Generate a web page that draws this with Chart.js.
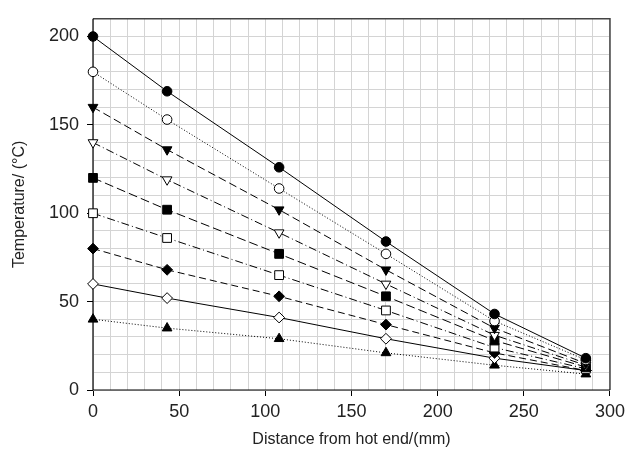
<!DOCTYPE html>
<html>
<head>
<meta charset="utf-8">
<script src="https://cdn.jsdelivr.net/npm/chart.js@4"></script>
<style>
  html, body { margin: 0; padding: 0; background: #fff; }
  #wrap { width: 630px; height: 451px; }
</style>
</head>
<body>
<div id="wrap"><canvas id="myChart"></canvas></div>
<script>
// distance from hot end (mm)
const distances = [0, 43, 108, 170, 233, 286];

// temperature curves, top to bottom
const t200 = [200, 169, 126, 84, 43, 18];
const t180 = [180, 153, 114, 77, 39, 17];
const t160 = [160, 136, 102, 68, 35, 15];
const t140 = [140, 119, 89, 60, 31, 14];
const t120 = [120, 102, 77, 53, 28, 13];
const t100 = [100, 86, 65, 45, 24, 12];
const t80 = [80, 68, 53, 37, 21, 11];
const t60 = [60, 52, 41, 29, 18, 11];
const t40 = [40, 35, 29, 21, 14, 9];

const xTicks = [0, 50, 100, 150, 200, 250, 300];
const yTicks = [0, 50, 100, 150, 200];

const toPoints = (vals) => vals.map((v, i) => ({ x: distances[i], y: v }));

const series = [
  { data: t200, style: "circle", fill: true, dash: [] },
  { data: t180, style: "circle", fill: false, dash: [1, 2] },
  { data: t160, style: "triangle", fill: true, dash: [8, 4], rot: 180 },
  { data: t140, style: "triangle", fill: false, dash: [8, 3, 1, 3], rot: 180 },
  { data: t120, style: "rect", fill: true, dash: [9, 4] },
  { data: t100, style: "rect", fill: false, dash: [8, 3, 1, 3] },
  { data: t80, style: "rectRot", fill: true, dash: [7, 4] },
  { data: t60, style: "rectRot", fill: false, dash: [] },
  { data: t40, style: "triangle", fill: true, dash: [1, 2] },
];

const radiusFor = { circle: 4.8, triangle: 5.6, rect: 6.2, rectRot: 5.4 };

const datasets = series.map((s) => ({
  data: toPoints(s.data),
  borderColor: "#000",
  borderWidth: 1,
  borderDash: s.dash,
  pointStyle: s.style,
  pointRotation: s.rot || 0,
  pointRadius: radiusFor[s.style],
  pointBackgroundColor: s.fill ? "#000" : "#fff",
  pointBorderColor: "#000",
  pointBorderWidth: 1,
  fill: false,
  tension: 0,
  clip: false,
}));

// frame around the plot area
const framePlugin = {
  id: "frame",
  beforeDatasetsDraw(chart) {
    const { ctx, chartArea: a } = chart;
    ctx.save();
    ctx.strokeStyle = "#444";
    ctx.lineWidth = 1.5;
    ctx.beginPath();
    ctx.moveTo(a.left, a.top);
    ctx.lineTo(a.right, a.top);
    ctx.lineTo(a.right, a.bottom);
    ctx.stroke();
    ctx.strokeStyle = "#000";
    ctx.lineWidth = 1.2;
    ctx.beginPath();
    ctx.moveTo(a.left, a.top);
    ctx.lineTo(a.left, a.bottom);
    ctx.lineTo(a.right, a.bottom);
    ctx.stroke();
    ctx.restore();
  },
};

const isMajor = (v, list) => list.includes(v);

new Chart(document.getElementById("myChart"), {
  type: "scatter",
  data: { datasets },
  options: {
    responsive: true,
    maintainAspectRatio: false,
    animation: false,
    showLine: true,
    layout: { padding: { top: 16, right: 18, left: 10, bottom: 2 } },
    plugins: { legend: { display: false }, tooltip: { enabled: false } },
    scales: {
      x: {
        type: "linear",
        min: 0,
        max: 300,
        ticks: {
          stepSize: 10,
          autoSkip: false,
          maxRotation: 0,
          color: "#222",
          font: { family: "Liberation Sans", size: 18 },
          padding: 5,
          callback: (v) => (isMajor(v, xTicks) ? v : ""),
        },
        grid: {
          color: "#d4d4d4",
          lineWidth: 1,
          tickLength: 6,
          tickColor: (c) => (isMajor(c.tick.value, xTicks) ? "#000" : "rgba(0,0,0,0)"),
        },
        border: { display: false },
        title: {
          display: true,
          text: "Distance from hot end/(mm)",
          color: "#222",
          font: { family: "Liberation Sans", size: 16 },
          padding: { top: 2, bottom: 0 },
        },
        afterFit: (scale) => { scale.height = 59; },
      },
      y: {
        min: 0,
        max: 210,
        ticks: {
          stepSize: 10,
          autoSkip: false,
          color: "#222",
          font: { family: "Liberation Sans", size: 18 },
          padding: 8,
          callback: (v) => (isMajor(v, yTicks) ? v : ""),
        },
        grid: {
          color: "#d4d4d4",
          lineWidth: 1,
          tickLength: 6,
          tickColor: (c) => (isMajor(c.tick.value, yTicks) ? "#000" : "rgba(0,0,0,0)"),
        },
        border: { display: false },
        title: {
          display: true,
          text: "Temperature/ (°C)",
          color: "#222",
          font: { family: "Liberation Sans", size: 16 },
          padding: { top: 0, bottom: 4 },
        },
        afterFit: (scale) => { scale.width = 83; },
      },
    },
  },
  plugins: [framePlugin],
});
</script>
</body>
</html>
